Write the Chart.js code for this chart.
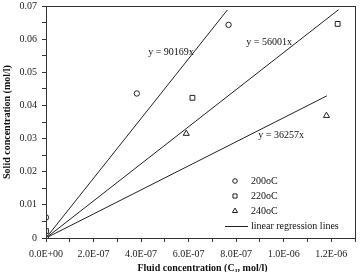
<!DOCTYPE html>
<html lang="en">
<head>
  <meta charset="UTF-8"/>
  <title>Solid vs fluid concentration</title>
  <script src="https://cdn.jsdelivr.net/npm/chart.js@4.4.1/dist/chart.umd.min.js"></script>
  <style>
    body { margin: 0; background: #fff; }
    #wrap { width: 361px; height: 272px; }
  </style>
</head>
<body>
  <div id="wrap"><canvas id="c" width="361" height="272"></canvas></div>
  <script>
    // measured points (C_l, C_s)
    const circleX = [0, 3.82e-7, 7.68e-7];
    const circleY = [0.0062, 0.0436, 0.0643];
    const squareX = [0, 6.16e-7, 1.227e-6];
    const squareY = [0.0021, 0.0423, 0.0646];
    const triX = [0, 5.9e-7, 1.18e-6];
    const triY = [0.0003, 0.0315, 0.0369];

    // regression lines, start at origin
    const lineEndX = [7.63e-7, 1.231e-6, 1.182e-6];
    const lineEndY = [0.0688, 0.0689, 0.0429];
    const eqLabels = ['y = 90169x', 'y = 56001x', 'y = 36257x'];
    const eqX = [5.26e-7, 9.39e-7, 9.89e-7];
    const eqY = [0.0561, 0.0591, 0.0310];

    const legendLabels = ['200oC', '220oC', '240oC', 'linear regression lines'];
    const pointStyles = ['circle', 'rect', 'triangle'];
    const pointSizes = [2.7, 3.4, 3.5];

    const serif = '"Liberation Serif", "Times New Roman", serif';
    const toPts = (xs, ys) => xs.map((x, i) => ({ x, y: ys[i] }));

    const pointSets = [toPts(circleX, circleY), toPts(squareX, squareY), toPts(triX, triY)];
    const datasets = pointSets.map((d, i) => ({
      type: 'scatter',
      label: legendLabels[i],
      data: d,
      pointStyle: pointStyles[i],
      pointRadius: pointSizes[i],
      borderWidth: 1,
      borderColor: '#222',
      backgroundColor: '#fff',
      order: 0
    }));
    lineEndX.forEach((x, i) => {
      datasets.push({
        type: 'line',
        label: legendLabels[3],
        data: [{ x: 0, y: 0 }, { x, y: lineEndY[i] }],
        borderColor: '#222',
        borderWidth: 1,
        pointRadius: 0,
        order: 1
      });
    });

    const extras = {
      id: 'extras',
      afterDraw(chart) {
        const { ctx, chartArea: a, scales } = chart;
        ctx.save();
        // frame
        ctx.strokeStyle = '#333';
        ctx.lineWidth = 1;
        ctx.strokeRect(a.left + 0.5, a.top + 0.5, a.right - a.left, a.bottom - a.top);
        // equations
        ctx.fillStyle = '#111';
        ctx.font = '10px ' + serif;
        ctx.textAlign = 'center';
        ctx.textBaseline = 'middle';
        eqLabels.forEach((t, i) => {
          ctx.fillText(t, scales.x.getPixelForValue(eqX[i]), scales.y.getPixelForValue(eqY[i]));
        });
        // legend
        const lx = a.left + 189, ly = a.top + 175, gap = 15;
        ctx.textAlign = 'left';
        ctx.strokeStyle = '#222';
        pointStyles.forEach((s, i) => {
          ctx.fillStyle = '#fff';
          Chart.helpers.drawPoint(ctx, {
            pointStyle: s, radius: pointSizes[i] * 0.85, rotation: 0, borderWidth: 1
          }, lx, ly + i * gap);
          ctx.fillStyle = '#111';
          ctx.fillText(legendLabels[i], lx + 16, ly + i * gap);
        });
        ctx.beginPath();
        ctx.moveTo(lx - 10, ly + 3 * gap + 0.5);
        ctx.lineTo(lx + 13, ly + 3 * gap + 0.5);
        ctx.stroke();
        ctx.fillText(legendLabels[3], lx + 16, ly + 3 * gap);
        // axis titles
        ctx.font = 'bold 10px ' + serif;
        const t1 = 'Fluid concentration (C', t2 = ', mol/l)';
        const w1 = ctx.measureText(t1).width, w2 = ctx.measureText(t2).width;
        ctx.font = 'bold 7px ' + serif;
        const ws = ctx.measureText('l').width + 1;
        let tx = (a.left + a.right) / 2 + 2 - (w1 + ws + w2) / 2;
        const ty = a.bottom + 30;
        ctx.fillText('l', tx + w1 + 0.5, ty + 3);
        ctx.font = 'bold 10px ' + serif;
        ctx.fillText(t1, tx, ty);
        ctx.fillText(t2, tx + w1 + ws, ty);
        ctx.textAlign = 'center';
        ctx.translate(7, (a.top + a.bottom) / 2);
        ctx.rotate(-Math.PI / 2);
        ctx.fillText('Solid concentration (mol/l)', 0, 0);
        ctx.restore();
      }
    };

    new Chart(document.getElementById('c'), {
      data: { datasets },
      options: {
        responsive: false,
        animation: false,
        layout: { padding: { top: 0, right: 5, left: 0, bottom: 0 } },
        plugins: { legend: { display: false }, tooltip: { enabled: false } },
        scales: {
          x: {
            type: 'linear', min: 0, max: 1.3e-6,
            afterFit: s => { s.height = 34; },
            border: { color: '#333' },
            grid: { drawOnChartArea: false, tickLength: 4, color: '#333' },
            ticks: {
              stepSize: 1e-7, color: '#222', padding: 6, maxRotation: 0, autoSkip: false,
              font: { family: serif, size: 10 },
              callback: (v, i) => i % 2 === 0 && i < 13
                ? Number(v).toExponential(1).toUpperCase().replace(/E([+-])(\d)$/, 'E$10$2')
                : ''
            }
          },
          y: {
            type: 'linear', min: 0, max: 0.07,
            afterFit: s => { s.width = 46; s.paddingTop = 6; },
            border: { color: '#333' },
            grid: { drawOnChartArea: false, tickLength: 4, color: '#333' },
            ticks: {
              stepSize: 0.005, color: '#222', padding: 5, autoSkip: false,
              font: { family: serif, size: 10 },
              callback: (v, i) => i % 2 === 0 ? (i === 0 ? '0' : (i / 200).toFixed(2)) : ''
            }
          }
        }
      },
      plugins: [extras]
    });
  </script>
</body>
</html>
